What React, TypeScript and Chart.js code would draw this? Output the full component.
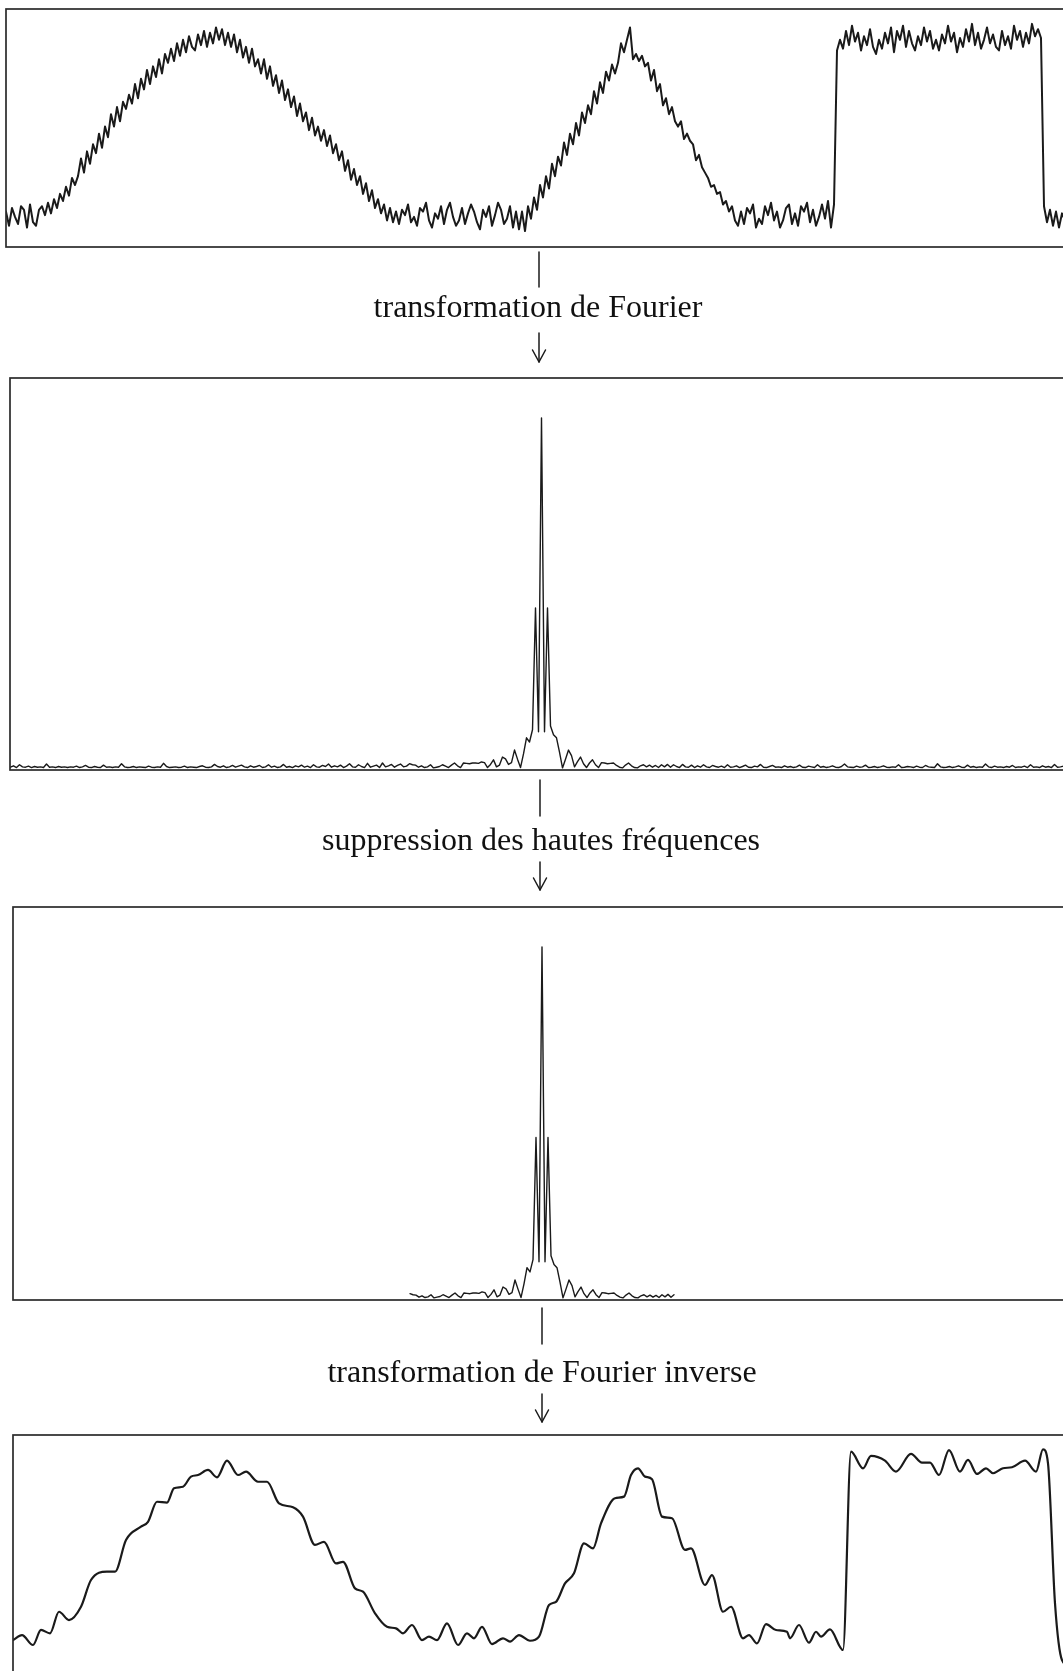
import React, { useEffect, useRef } from "react";
import { Chart, registerables } from "chart.js";

Chart.register(...registerables);

// ---------------------------------------------------------------------------
// Noisy input signal (arbitrary amplitude units), one sample every SIGNAL_STEP
// time units: two humps, a low stretch and a rectangular pulse.
// ---------------------------------------------------------------------------
const SIGNAL_STEP = 3;
const SIGNAL = [
  2, -6, 4, -1, -5, 5, 3, -7, 6, -4, -6, 3, 5,
  0, 7, 1, 9, 4, 12, 8, 16, 11, 21, 17, 22, 32, 24, 36, 29, 40, 35,
  46, 38, 50, 44, 57, 50, 61, 53, 64, 60, 68, 63, 74, 66, 77, 71, 82, 74, 84, 78,
  88, 80, 91, 86, 94, 87, 97, 90, 99, 92, 101, 95, 93, 102, 96, 104, 95, 103, 97, 106,
  99, 105, 96, 103, 95, 102, 92, 99, 89, 95, 86, 94, 84, 88, 80, 88, 77, 84, 73, 79,
  69, 76, 65, 71, 61, 67, 56, 63, 53, 58, 48, 55, 45,
  50, 42, 48, 39, 45, 35, 40, 31, 36, 25, 31, 20, 26, 17, 22, 12, 18, 8, 14, 4, 9, 1, 6, -3, 4, -4, 2,
  -5, 3, 0, 6, -4, -1, -6, 4, 2, 7, -3, -7, 1, -2, 5, -5, 3, 7, -1, -6,
  -3, 4, -5, 1, 6, 2, -4, -8, 3, -1, 5, -6, 0, 7, 3, -5, -2, 5, -7, 2, -8, 2,
  -9, 5, -2, 10, 3, 17, 10, 22, 15, 29, 22, 33, 28, 41, 34, 46, 40, 52, 45, 58,
  52, 62, 57, 70, 63, 75, 69, 81, 76, 85, 80, 86, 97, 92, 99, 106,
  88, 91, 87, 90, 84, 86, 76, 82, 70, 74, 62, 66, 57, 61, 53, 50, 53, 43, 46, 42,
  40, 31, 34, 27, 24, 21, 16, 17, 12, 13, 6, 8, 2, 5, -3, -6,
  2, -5, 4, 1, 6, -7, -2, -5, 5, 0, 7, -3, 2, -7, -3, 4, 6, -5, 1, -6,
  5, 2, 7, -4, 3, -6, -1, 6, -2, 8, -7, 6,
  93, 99, 94, 104, 96, 107, 98, 103, 93, 101, 96, 105, 95, 91, 99, 94, 103, 97, 106, 92,
  104, 99, 107, 95, 104, 97, 93, 101, 96, 106, 98, 104, 94, 99, 93, 102, 97, 107, 98, 103,
  92, 100, 95, 105, 98, 108, 96, 103, 94, 99, 106, 97, 102, 95, 93, 104, 96, 101, 94, 107,
  99, 104, 95, 103, 97, 108, 101, 105, 100,
  5, -4, 3, -6, 2, -7, 1, -3, 4,
];

// ---------------------------------------------------------------------------
// Magnitude spectrum, one value per frequency bin, starting at bin SPECTRUM_K_MIN.
// ---------------------------------------------------------------------------
const SPECTRUM_K_MIN = -177;

// bins -177 .. -44
const SPECTRUM_HIGH_NEG = [
  0.2, 0.6, 0.1, 0.9, 0.3, 0.2, 0.5, 0.1, 0.4, 0.2,
  0.3, 0.1, 1.1, 0.2, 0.3, 0.1, 0.4, 0.2, 0.3, 0.1,
  0.3, 0.2, 0.5, 0.1, 0.3, 0.7, 0.2, 0.1, 0.4, 0.2,
  0.1, 0.8, 0.2, 0.3, 0.1, 0.3, 0.2, 1.2, 0.3, 0.1,
  0.2, 0.4, 0.1, 0.3, 0.2, 0.1, 0.5, 0.2, 0.1, 0.3,
  0.2, 1.3, 0.4, 0.1, 0.2, 0.3, 0.1, 0.2, 0.5, 0.1,
  0.3, 0.2, 0.1, 0.4, 0.6, 0.2, 0.1, 0.3, 1.0, 0.4,
  0.2, 0.6, 0.1, 0.3, 0.7, 0.2, 0.5, 0.8, 0.3, 0.1,
  0.6, 0.2, 0.4, 0.7, 0.1, 0.3, 0.9, 0.2, 0.5, 0.1,
  0.3, 1.0, 0.2, 0.4, 0.1, 0.6, 0.3, 0.8, 0.2, 0.5,
  0.1, 0.9, 0.3, 0.2, 0.7, 0.4, 1.1, 0.2, 0.6, 0.3,
  0.8, 0.1, 0.5, 1.2, 0.3, 0.2, 0.9, 0.4, 0.1, 1.3,
  0.2, 0.5, 0.8, 0.1, 1.4, 0.3, 0.6, 1.0, 0.2, 0.7,
  1.1, 0.3, 0.5, 1.2,
];

// bins -43 .. 44 (the central lobe and its neighbours)
const SPECTRUM_LOW = [
  0.9, 0.8, 0.2, 0.6, 0.1, 0.3, 0.9, 0.0, 0.2, 0.4,
  0.9, 0.5, 0.1, 0.8, 1.4, 0.6, 0.1, 1.4, 1.3, 1.2,
  1.4, 1.4, 1.3, 1.7, 1.5, 0.1, 1.0, 2.3, 0.3, 0.8,
  3.1, 2.6, 1.0, 1.5, 5.1, 2.5, 0.1, 4.0, 8.6, 7.4,
  10.9, 45.7, 10.3,
  100,
  10.3, 45.7, 12.0, 9.5, 8.6, 4.5, 0.0, 2.5, 5.1, 3.5,
  0.3, 1.8, 3.1, 1.2, 0.1, 1.4, 2.3, 0.9, 0.1, 1.5,
  1.4, 1.2, 1.3, 1.4, 0.7, 0.2, 0.0, 0.8, 1.4, 0.6,
  0.1, 0.0, 0.6, 0.9, 0.3, 0.8, 0.2, 0.7, 0.1, 0.9,
  0.3, 1.0, 0.2, 0.9,
];

// bins 45 .. 176
const SPECTRUM_HIGH_POS = [
  0.4, 0.1, 1.0, 0.3, 0.2, 0.8, 0.1, 0.6, 0.2, 0.9,
  0.3, 0.1, 0.7, 0.4, 0.2, 0.5, 0.1, 0.9, 0.2, 0.3,
  0.6, 0.1, 0.4, 0.8, 0.2, 0.1, 0.5, 0.3, 1.0, 0.2,
  0.1, 0.4, 0.7, 0.2, 0.3, 0.1, 0.6, 0.2, 0.4, 0.1,
  0.3, 0.8, 0.2, 0.1, 0.5, 0.3, 0.1, 0.9, 0.2, 0.4,
  0.1, 0.3, 0.6, 0.2, 0.1, 0.4, 1.1, 0.3, 0.2, 0.1,
  0.5, 0.2, 0.3, 0.8, 0.1, 0.2, 0.4, 0.1, 0.3, 0.6,
  0.2, 0.1, 0.3, 0.2, 0.9, 0.1, 0.2, 0.4, 0.3, 0.1,
  0.5, 0.2, 0.1, 0.7, 0.3, 0.2, 0.1, 1.2, 0.3, 0.1,
  0.2, 0.4, 0.1, 0.3, 0.6, 0.2, 0.1, 0.8, 0.2, 0.4,
  0.1, 0.3, 0.2, 1.1, 0.3, 0.1, 0.5, 0.2, 0.3, 0.1,
  0.4, 0.2, 0.7, 0.1, 0.3, 0.2, 0.5, 0.1, 0.9, 0.2,
  0.3, 0.1, 0.6, 0.2, 0.4, 0.1, 1.0, 0.2, 0.3, 0.5,
  0.2, 0.4,
];

// low-pass filter: bins kept on either side of zero frequency
const CUTOFF_BIN = 44;

// ---------------------------------------------------------------------------
// Signal rebuilt from the kept bins (times and values).
// ---------------------------------------------------------------------------
const FILTERED_T = [
  0, 9, 20, 28, 37, 46, 56, 68, 78, 94,
  102, 113, 128, 135, 144, 154, 161, 170, 178, 185,
  195, 204, 214, 225, 233, 245, 254, 266, 280, 290,
  302, 311, 323, 330, 342, 350, 362, 374, 383, 390,
  399, 409, 416, 424, 434, 445, 454, 461, 469, 479,
  490, 497, 506, 517, 526, 536, 543, 552, 561, 571,
  580, 588, 602, 611, 618, 625, 632, 639, 649, 659,
  672, 678, 692, 699, 710, 718, 730, 736, 744, 753,
  763, 774, 777, 786, 796, 803, 808, 817, 830, 838,
  850, 858, 872, 883, 898, 909, 917, 926, 936, 947,
  955, 964, 973, 980, 990, 999, 1012, 1023, 1030, 1035,
  1042, 1049, 1058,
];
const FILTERED_V = [
  -1.7, 1.1, -4.5, 4, 2.1, 14.3, 9.6, 17.1, 32.2, 36.9,
  36.9, 54.8, 62.3, 65.1, 76.4, 75.9, 84, 84.9, 90.6, 91.5,
  94.4, 90.2, 99.6, 91.5, 93.4, 87.7, 87.7, 75.5, 73.3, 68,
  52, 53.8, 41.6, 42.5, 27.5, 25.6, 13.4, 5.8, 4.9, 2.1,
  6.8, -1.7, 0.2, -1.7, 7.7, -4.5, 2.1, -0.7, 5.8, -4,
  -0.7, -2.6, 1.1, -2.1, 0.2, 18.1, 19.9, 30.3, 36, 52.9,
  50.1, 64.2, 78.4, 79.3, 91.5, 95.3, 90.6, 89.1, 68, 67.1,
  49.2, 50.1, 29.4, 35, 14.3, 17.1, -0.7, 1.1, -3.6, 7.3,
  4, 3, -0.7, 6.8, -3.2, 3, 0.2, 4.3, -7.3, 104.7,
  95.3, 102.3, 99.6, 93.4, 103.4, 98.5, 98.5, 91.5, 105.6, 93.4,
  100, 92.1, 95.3, 92.5, 95.3, 95.9, 99.6, 93.4, 106, 98.1,
  19, -13, -17,
];

const CAPTIONS = [
  "transformation de Fourier",
  "suppression des hautes fréquences",
  "transformation de Fourier inverse",
];

// ---------------------------------------------------------------------------

type Pt = { x: number; y: number };

const signalPoints: Pt[] = SIGNAL.map((v, i) => ({ x: i * SIGNAL_STEP, y: v }));
const spectrumValues = [...SPECTRUM_HIGH_NEG, ...SPECTRUM_LOW, ...SPECTRUM_HIGH_POS];
const spectrumPoints: Pt[] = spectrumValues.map((v, i) => ({ x: SPECTRUM_K_MIN + i, y: v }));
const keptPoints: Pt[] = spectrumPoints.filter((p) => Math.abs(p.x) <= CUTOFF_BIN);
const filteredPoints: Pt[] = FILTERED_T.map((t, i) => ({ x: t, y: FILTERED_V[i] }));

const PAD = 3;
const INK = "#1a1a1a";

const framePlugin = {
  id: "panelFrame",
  afterDatasetsDraw(chart: any) {
    const { ctx, chartArea: a } = chart;
    ctx.save();
    ctx.strokeStyle = "#2b2b2b";
    ctx.lineWidth = 1.7;
    ctx.strokeRect(a.left, a.top, a.right - a.left, a.bottom - a.top);
    ctx.restore();
  },
};

type PanelProps = {
  left: number;
  top: number;
  width: number;
  height: number;
  xMin: number;
  xMax: number;
  yMin: number;
  yMax: number;
  points: Pt[];
  lineWidth: number;
  smooth?: boolean;
};

function Panel(p: PanelProps) {
  const ref = useRef<HTMLCanvasElement>(null);
  useEffect(() => {
    const chart = new Chart(ref.current as HTMLCanvasElement, {
      type: "line",
      data: {
        datasets: [
          {
            data: p.points,
            borderColor: INK,
            borderWidth: p.lineWidth,
            pointRadius: 0,
            tension: 0,
            cubicInterpolationMode: p.smooth ? "monotone" : "default",
            borderJoinStyle: "round",
            borderCapStyle: "round",
            fill: false,
          },
        ],
      },
      options: {
        responsive: false,
        animation: false,
        events: [],
        layout: { padding: PAD },
        plugins: { legend: { display: false }, tooltip: { enabled: false } },
        scales: {
          x: { type: "linear", display: false, min: p.xMin, max: p.xMax },
          y: { type: "linear", display: false, min: p.yMin, max: p.yMax },
        },
      },
      plugins: [framePlugin],
    } as any);
    return () => chart.destroy();
  }, []);
  return (
    <canvas
      ref={ref}
      width={p.width + 2 * PAD}
      height={p.height + 2 * PAD}
      style={{ position: "absolute", left: p.left - PAD, top: p.top - PAD }}
    />
  );
}

function Connector({ x, lineTop, lineBottom, arrowTop, arrowTip }: { x: number; lineTop: number; lineBottom: number; arrowTop: number; arrowTip: number }) {
  return (
    <g stroke="#1a1a1a" strokeWidth={1.5} fill="none" strokeLinecap="round" strokeLinejoin="round">
      <line x1={x} y1={lineTop} x2={x} y2={lineBottom} />
      <line x1={x} y1={arrowTop} x2={x} y2={arrowTip} />
      <polyline points={`${x - 6.5},${arrowTip - 12} ${x},${arrowTip} ${x + 6.5},${arrowTip - 12}`} />
    </g>
  );
}

function Caption({ text, cx, top }: { text: string; cx: number; top: number }) {
  return (
    <div
      style={{
        position: "absolute",
        left: cx,
        top,
        transform: "translateX(-50%)",
        whiteSpace: "nowrap",
        fontFamily: '"Liberation Serif", "Times New Roman", serif',
        fontSize: 32,
        lineHeight: "32px",
        color: "#111111",
      }}
    >
      {text}
    </div>
  );
}

export default function App() {
  return (
    <div
      style={{
        position: "fixed",
        left: 0,
        top: 0,
        width: 1063,
        height: 1671,
        overflow: "hidden",
        background: "#ffffff",
      }}
    >
      <Panel left={6} top={9} width={1066} height={238} xMin={0} xMax={1066} yMin={-18} yMax={116.4} points={signalPoints} lineWidth={2} />
      <Panel left={10} top={378} width={1062} height={392} xMin={-531.5 / 3} xMax={-531.5 / 3 + 1062 / 3} yMin={-0.6} yMax={111.4} points={spectrumPoints} lineWidth={1.4} />
      <Panel left={13} top={907} width={1059} height={393} xMin={-529 / 3} xMax={-529 / 3 + 1059 / 3} yMin={-0.6} yMax={111.4} points={keptPoints} lineWidth={1.4} />
      <Panel left={13} top={1435} width={1059} height={238} xMin={0} xMax={1059} yMin={-20.3} yMax={114.1} points={filteredPoints} lineWidth={2.2} smooth />

      <svg width={1063} height={1671} style={{ position: "absolute", left: 0, top: 0 }}>
        <Connector x={539} lineTop={252} lineBottom={287} arrowTop={333} arrowTip={362} />
        <Connector x={540} lineTop={780} lineBottom={816} arrowTop={862} arrowTip={890} />
        <Connector x={542} lineTop={1308} lineBottom={1344} arrowTop={1394} arrowTip={1422} />
      </svg>

      <Caption text={CAPTIONS[0]} cx={538} top={290} />
      <Caption text={CAPTIONS[1]} cx={541} top={823} />
      <Caption text={CAPTIONS[2]} cx={542} top={1355} />
    </div>
  );
}
